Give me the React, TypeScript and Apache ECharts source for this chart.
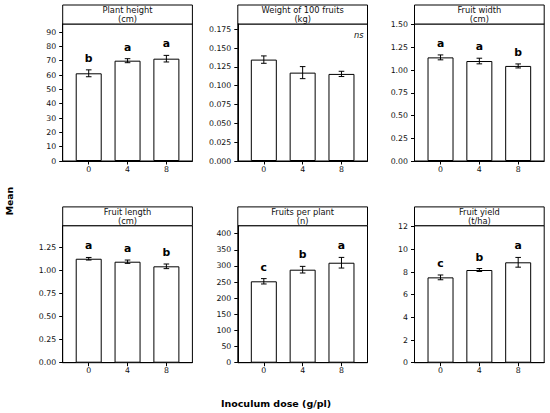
import React, { useEffect, useRef } from "react";
import * as echarts from "echarts";

const doses = ["0", "4", "8"];

const plantHeightMean = [61.2, 70.0, 71.4];
const plantHeightSE = [2.4, 1.4, 2.3];
const plantHeightLetters = ["b", "a", "a"];
const plantHeightTicks = [0, 10, 20, 30, 40, 50, 60, 70, 80, 90];

const weightMean = [0.1347, 0.1174, 0.1157];
const weightSE = [0.0049, 0.008, 0.0035];
const weightLetters = ["", "", ""];
const weightTicks = [0, 0.025, 0.05, 0.075, 0.1, 0.125, 0.15, 0.175];

const widthMean = [1.139, 1.099, 1.045];
const widthSE = [0.027, 0.031, 0.022];
const widthLetters = ["a", "a", "b"];
const widthTicks = [0, 0.25, 0.5, 0.75, 1.0, 1.25, 1.5];

const lengthMean = [1.126, 1.094, 1.044];
const lengthSE = [0.014, 0.018, 0.025];
const lengthLetters = ["a", "a", "b"];
const lengthTicks = [0, 0.25, 0.5, 0.75, 1.0, 1.25];

const fruitsMean = [252.4, 288.4, 310.0];
const fruitsSE = [8.3, 10.3, 16.5];
const fruitsLetters = ["c", "b", "a"];
const fruitsTicks = [0, 50, 100, 150, 200, 250, 300, 350, 400];

const yieldMean = [7.53, 8.18, 8.86];
const yieldSE = [0.21, 0.13, 0.43];
const yieldLetters = ["c", "b", "a"];
const yieldTicks = [0, 2, 4, 6, 8, 10, 12];

const panels = [
  { title: "Plant height\n(cm)", mean: plantHeightMean, se: plantHeightSE, letters: plantHeightLetters, ticks: plantHeightTicks, max: 95.6, dec: 0, note: "" },
  { title: "Weight of 100 fruits\n(kg)", mean: weightMean, se: weightSE, letters: weightLetters, ticks: weightTicks, max: 0.182, dec: 3, note: "ns" },
  { title: "Fruit width\n(cm)", mean: widthMean, se: widthSE, letters: widthLetters, ticks: widthTicks, max: 1.506, dec: 2, note: "" },
  { title: "Fruit length\n(cm)", mean: lengthMean, se: lengthSE, letters: lengthLetters, ticks: lengthTicks, max: 1.484, dec: 2, note: "" },
  { title: "Fruits per plant\n(n)", mean: fruitsMean, se: fruitsSE, letters: fruitsLetters, ticks: fruitsTicks, max: 424.8, dec: 0, note: "" },
  { title: "Fruit yield\n(t/ha)", mean: yieldMean, se: yieldSE, letters: yieldLetters, ticks: yieldTicks, max: 12.09, dec: 0, note: "" },
];

const FONT = "DejaVu Sans";
const colLefts = [62.7, 237.8, 414.5];
const colWidth = 129.7;
const rowTops = [24, 225.7];
const stripTops = [5, 206.9];
const plotHeight = 137;

export default function App() {
  const ref = useRef<HTMLDivElement>(null);
  useEffect(() => {
    if (!ref.current) return;
    const chart = echarts.init(ref.current, null, { renderer: "svg" });
    const grids: any[] = [];
    const xAxes: any[] = [];
    const yAxes: any[] = [];
    const series: any[] = [];
    const graphics: any[] = [];
    panels.forEach((p, i) => {
      const col = i % 3;
      const row = Math.floor(i / 3);
      const left = colLefts[col];
      const top = rowTops[row];
      grids.push({
        left, top, width: colWidth, height: plotHeight,
        show: true, borderColor: "#000", borderWidth: 1, backgroundColor: "transparent",
        containLabel: false, outerBoundsMode: "none",
      });
      xAxes.push({
        type: "value", gridIndex: i, min: -0.67, max: 2.67, position: "bottom",
        splitLine: { show: false },
        axisLine: { show: true, onZero: false, lineStyle: { color: "#000", width: 1 } },
        axisTick: { show: true, length: 3.5, customValues: [0, 1, 2], lineStyle: { color: "#000" } },
        axisLabel: {
          customValues: [0, 1, 2], formatter: (v: number) => doses[Math.round(v)],
          fontSize: 7.8, fontFamily: FONT, color: "#111", margin: 4,
        },
      });
      yAxes.push({
        type: "value", gridIndex: i, min: 0, max: p.max, position: "left",
        splitLine: { show: false },
        axisLine: { show: true, onZero: false, lineStyle: { color: "#000", width: 1 } },
        axisTick: { show: true, length: 3.5, customValues: p.ticks, lineStyle: { color: "#000" } },
        axisLabel: {
          customValues: p.ticks, formatter: (v: number) => v.toFixed(p.dec),
          fontSize: 7.8, fontFamily: FONT, color: "#111", margin: 6.5,
        },
      });
      series.push({
        type: "bar", xAxisIndex: i, yAxisIndex: i, barWidth: 26,
        data: p.mean.map((m, j) => [j, m]),
        itemStyle: { color: "#fff", borderColor: "#000", borderWidth: 1 },
        silent: true, z: 2,
      });
      series.push({
        type: "custom", xAxisIndex: i, yAxisIndex: i, z: 3, silent: true,
        data: p.mean.map((m, j) => [j, m - p.se[j], m + p.se[j]]),
        renderItem: (params: any, api: any) => {
          const x = api.value(0);
          const lo = api.coord([x, api.value(1)]);
          const hi = api.coord([x, api.value(2)]);
          const cap = 2.8;
          const st = { stroke: "#000", lineWidth: 1 };
          return {
            type: "group",
            children: [
              { type: "line", shape: { x1: lo[0], y1: lo[1], x2: hi[0], y2: hi[1] }, style: st },
              { type: "line", shape: { x1: lo[0] - cap, y1: lo[1], x2: lo[0] + cap, y2: lo[1] }, style: st },
              { type: "line", shape: { x1: hi[0] - cap, y1: hi[1], x2: hi[0] + cap, y2: hi[1] }, style: st },
            ],
          };
        },
      });
      series.push({
        type: "custom", xAxisIndex: i, yAxisIndex: i, z: 4, silent: true,
        data: p.mean.map((m, j) => [j, m + p.se[j]]),
        renderItem: (params: any, api: any) => {
          const pt = api.coord([api.value(0), api.value(1)]);
          return {
            type: "text", x: pt[0], y: pt[1] - 11.5,
            style: {
              text: p.letters[params.dataIndex], align: "center", verticalAlign: "middle",
              fontSize: 10.8, fontWeight: "bold", fontFamily: FONT, fill: "#000",
            },
          };
        },
      });
      const stripTop = stripTops[row];
      graphics.push({
        type: "rect", shape: { x: left, y: stripTop, width: colWidth, height: top - stripTop },
        style: { fill: "#fff", stroke: "#000", lineWidth: 1 },
      });
      graphics.push({
        type: "text", x: left + colWidth / 2, y: (stripTop + top) / 2,
        style: {
          text: p.title, align: "center", verticalAlign: "middle",
          fontSize: 8.3, lineHeight: 9.6, fontFamily: FONT, fill: "#111",
        },
      });
      if (p.note) {
        graphics.push({
          type: "text", x: left + colWidth - 4, y: top + 10.5,
          style: {
            text: p.note, align: "right", verticalAlign: "middle",
            fontSize: 8.3, fontStyle: "italic", fontFamily: FONT, fill: "#111",
          },
        });
      }
    });
    graphics.push({
      type: "text", x: 9, y: 201, rotation: Math.PI / 2,
      style: {
        text: "Mean", align: "center", verticalAlign: "middle",
        fontSize: 9.3, fontWeight: "bold", fontFamily: FONT, fill: "#000",
      },
    });
    graphics.push({
      type: "text", x: 276, y: 403.3,
      style: {
        text: "Inoculum dose (g/pl)", align: "center", verticalAlign: "middle",
        fontSize: 9.5, fontWeight: "bold", fontFamily: FONT, fill: "#000",
      },
    });
    chart.setOption({
      animation: false,
      backgroundColor: "#fff",
      textStyle: { fontFamily: FONT },
      grid: grids,
      xAxis: xAxes,
      yAxis: yAxes,
      series,
      graphic: graphics,
    });
    return () => chart.dispose();
  }, []);
  return (
    <div
      ref={ref}
      style={{ position: "fixed", left: 0, top: 0, width: 550, height: 413, background: "#fff" }}
    />
  );
}
